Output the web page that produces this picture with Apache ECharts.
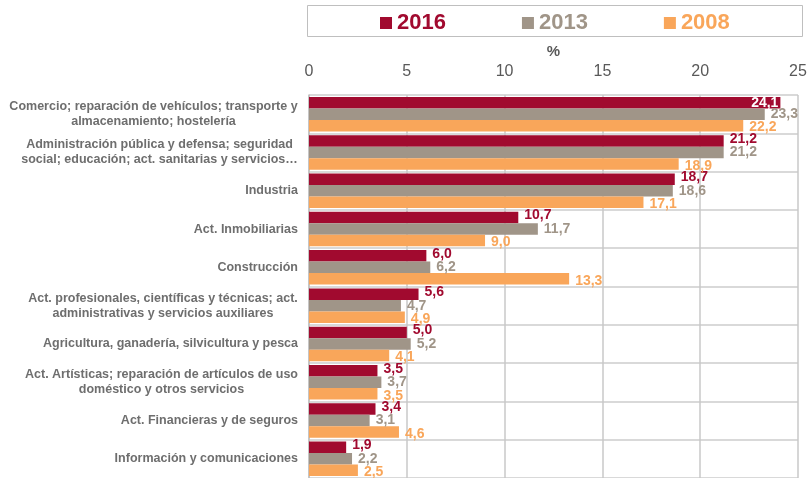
<!DOCTYPE html>
<html>
<head>
<meta charset="utf-8">
<script src="https://cdn.jsdelivr.net/npm/echarts@6/dist/echarts.min.js"></script>
<style>
html, body { margin: 0; padding: 0; background: #fff; }
#chart { width: 810px; height: 478px; }
</style>
</head>
<body>
<div id="chart"></div>
<script>
// categorias (de arriba a abajo)
var sectores = [
    'Comercio; reparación de vehículos; transporte y\nalmacenamiento; hostelería',
    'Administración pública y defensa; seguridad\nsocial; educación; act. sanitarias y servicios…',
    'Industria',
    'Act. Inmobiliarias',
    'Construcción',
    'Act. profesionales, científicas y técnicas; act.\nadministrativas y servicios auxiliares',
    'Agricultura, ganadería, silvicultura y pesca',
    'Act. Artísticas; reparación de artículos de uso\ndoméstico y otros servicios',
    'Act. Financieras y de seguros',
    'Información y comunicaciones'
];
var v2016 = [24.1, 21.2, 18.7, 10.7, 6.0, 5.6, 5.0, 3.5, 3.4, 1.9];
var v2013 = [23.3, 21.2, 18.6, 11.7, 6.2, 4.7, 5.2, 3.7, 3.1, 2.2];
var v2008 = [22.2, 18.9, 17.1, 9.0, 13.3, 4.9, 4.1, 3.5, 4.6, 2.5];
var anios = ['2016', '2013', '2008'];
var colores = ['#A10A2F', '#A09588', '#F9A65A'];

var FONT = 'Liberation Sans, Arial, sans-serif';

// medir lineas para centrar etiquetas de varias lineas
var ctx = document.createElement('canvas').getContext('2d');
ctx.font = 'bold 12.5px ' + FONT;
var rich = {};
sectores.forEach(function (s, i) {
    var w = 0;
    s.split('\n').forEach(function (l) { w = Math.max(w, ctx.measureText(l).width); });
    rich['c' + i] = { width: Math.ceil(w), align: 'center', fontSize: 12.5, fontWeight: 'bold',
        color: '#6E6E6E', fontFamily: FONT, lineHeight: 15 };
});

function fmt(v) { return v.toFixed(1).replace('.', ','); }

function serie(nombre, valores, color, dy) {
    return {
        name: nombre,
        type: 'bar',
        barGap: '0%',
        barCategoryGap: '10%',
        itemStyle: { color: color },
        label: {
            show: true,
            position: 'right',
            distance: 6,
            offset: [0, dy],
            color: color,
            fontWeight: 'bold',
            fontSize: 14,
            fontFamily: FONT,
            formatter: function (p) { return fmt(p.value); }
        },
        data: valores.map(function (v) {
            if (v > 24) {
                return { value: v, label: { position: 'insideRight', color: '#fff', distance: 2, offset: [0, 0] } };
            }
            return v;
        })
    };
}

var chart = echarts.init(document.getElementById('chart'));
chart.setOption({
    animation: false,
    graphic: [{
        type: 'rect',
        shape: { x: 307.5, y: 5.5, width: 495, height: 31 },
        style: { fill: '#fff', stroke: '#BFBFBF', lineWidth: 1 },
        z: -1
    }],
    legend: {
        left: 380,
        top: 12,
        padding: 0,
        itemWidth: 12,
        itemHeight: 12,
        itemGap: 76,
        icon: 'rect',
        data: anios.map(function (a, i) {
            return { name: a, textStyle: { color: colores[i] } };
        }),
        textStyle: { fontSize: 22, fontWeight: 'bold', fontFamily: FONT }
    },
    grid: { left: 309, right: 12, top: 95, height: 384, containLabel: false },
    xAxis: {
        type: 'value',
        position: 'top',
        min: 0,
        max: 25,
        interval: 5,
        name: '%',
        nameLocation: 'middle',
        nameGap: 30,
        nameTextStyle: { color: '#595959', fontWeight: 'bold', fontSize: 15, fontFamily: FONT },
        axisLine: { show: false },
        axisTick: { show: false },
        axisLabel: { color: '#595959', fontSize: 16, fontFamily: FONT, margin: 15 },
        splitLine: { show: true, lineStyle: { color: '#C8C8C8', width: 1.5 } }
    },
    yAxis: {
        type: 'category',
        inverse: true,
        data: sectores,
        axisLine: { show: true, lineStyle: { color: '#BFBFBF', width: 1.5 } },
        axisTick: { show: false },
        splitLine: { show: true, lineStyle: { color: '#CCCCCC', width: 1.5 } },
        axisLabel: {
            margin: 11,
            color: '#6E6E6E',
            fontSize: 12.5,
            fontWeight: 'bold',
            fontFamily: FONT,
            lineHeight: 15,
            formatter: function (v, i) {
                if (v.indexOf('\n') < 0) return v;
                return v.split('\n').map(function (l) { return '{c' + i + '|' + l + '}'; }).join('\n');
            },
            rich: rich
        }
    },
    series: [
        serie(anios[0], v2016, colores[0], -2),
        serie(anios[1], v2013, colores[1], 0),
        serie(anios[2], v2008, colores[2], 2)
    ]
});
</script>
</body>
</html>
